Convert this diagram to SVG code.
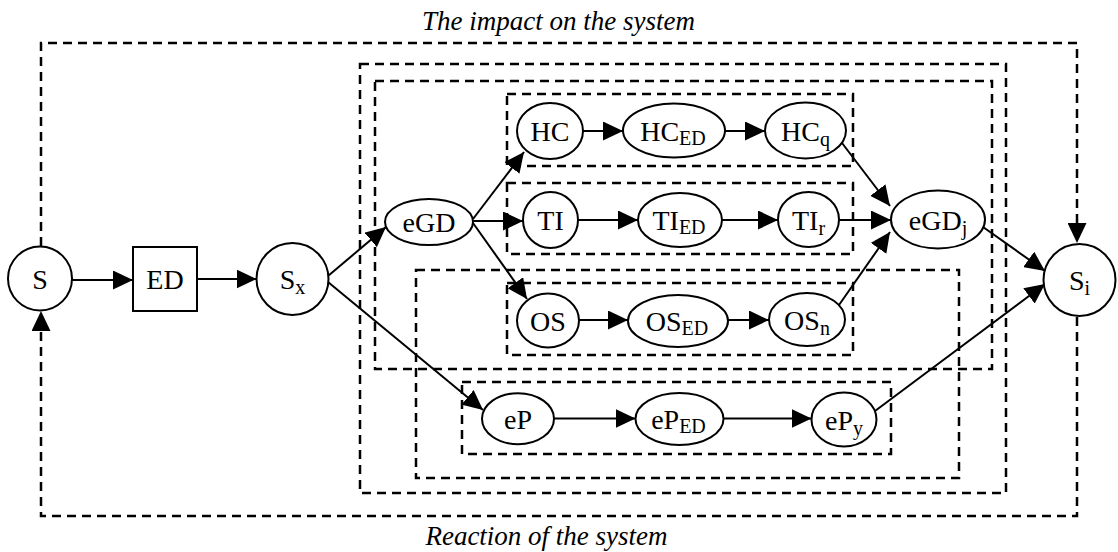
<svg xmlns="http://www.w3.org/2000/svg" width="1118" height="552" viewBox="0 0 1118 552">
<style>
.node{fill:#fff;stroke:#000;stroke-width:2}
.box{fill:none;stroke:#000;stroke-width:2.5;stroke-dasharray:9 6}
.edge{fill:none;stroke:#000;stroke-width:2}
.fb{fill:none;stroke:#000;stroke-width:2.5;stroke-dasharray:9 6}
.lbl{font-family:"Liberation Serif","Times New Roman",serif;font-size:28px;text-anchor:middle;fill:#000}
.sub{font-size:20px}
.cap{font-family:"Liberation Serif","Times New Roman",serif;font-size:27px;font-style:italic;text-anchor:middle;fill:#000}
</style>
<defs>
<marker id="arr" markerUnits="userSpaceOnUse" markerWidth="20" markerHeight="19" refX="20" refY="9.5" orient="auto">
<path d="M0,0 L20,9.5 L0,19 z" fill="#000"/>
</marker>
</defs>
<rect width="1118" height="552" fill="#fff"/>
<g id="frames">
<rect class="box" x="360" y="64" width="646" height="429"/>
<rect class="box" x="375" y="81" width="617" height="288"/>
<rect class="box" x="507" y="94" width="346" height="72"/>
<rect class="box" x="507" y="183" width="346" height="71"/>
<rect class="box" x="416" y="270" width="543" height="208"/>
<rect class="box" x="507" y="283" width="346" height="72"/>
<rect class="box" x="462" y="382" width="429" height="72"/>
</g>
<g id="connectors">
<path class="fb" d="M41,246 V43 H1077 V243" marker-end="url(#arr)"/>
<path class="fb" d="M1077,317 V516 H41 V311" marker-end="url(#arr)"/>
<path class="edge" d="M72,280 L133,280" marker-end="url(#arr)"/>
<path class="edge" d="M197,279 L256.5,279" marker-end="url(#arr)"/>
<path class="edge" d="M328,276 L386,227" marker-end="url(#arr)"/>
<path class="edge" d="M328,282 L483,410" marker-end="url(#arr)"/>
<path class="edge" d="M473,219 L524,152" marker-end="url(#arr)"/>
<path class="edge" d="M473,221 L523,221" marker-end="url(#arr)"/>
<path class="edge" d="M473,223 L527,299" marker-end="url(#arr)"/>
<path class="edge" d="M583,131 L623,131" marker-end="url(#arr)"/>
<path class="edge" d="M725,131 L765,131" marker-end="url(#arr)"/>
<path class="edge" d="M578,220 L638,220" marker-end="url(#arr)"/>
<path class="edge" d="M722,220 L778,220" marker-end="url(#arr)"/>
<path class="edge" d="M579,320 L628,320" marker-end="url(#arr)"/>
<path class="edge" d="M728,320 L769,320" marker-end="url(#arr)"/>
<path class="edge" d="M554,418.5 L635.5,418.5" marker-end="url(#arr)"/>
<path class="edge" d="M723.5,418.5 L811.5,418.5" marker-end="url(#arr)"/>
<path class="edge" d="M842,143 L890,206" marker-end="url(#arr)"/>
<path class="edge" d="M839,220 L891,220" marker-end="url(#arr)"/>
<path class="edge" d="M839,305 L890,232" marker-end="url(#arr)"/>
<path class="edge" d="M983,227 L1045,271" marker-end="url(#arr)"/>
<path class="edge" d="M875,411 L1045,284" marker-end="url(#arr)"/>
</g>
<g id="node-S"><circle class="node" cx="40" cy="278.5" r="32"/><text class="lbl" x="40" y="288.5">S</text></g>
<g id="node-ED"><rect class="node" x="133" y="247" width="64" height="64"/><text class="lbl" x="165" y="289">ED</text></g>
<g id="node-Sx"><circle class="node" cx="292.5" cy="279" r="36"/><text class="lbl" x="292.5" y="289">S<tspan class="sub" dy="5">x</tspan></text></g>
<g id="node-eGD"><ellipse class="node" cx="429" cy="222" rx="44" ry="23"/><text class="lbl" x="429" y="232">eGD</text></g>
<g id="node-HC"><ellipse class="node" cx="550" cy="131" rx="33" ry="28"/><text class="lbl" x="550" y="141">HC</text></g>
<g id="node-HCED"><ellipse class="node" cx="674" cy="130.5" rx="51" ry="27"/><text class="lbl" x="673" y="141">HC<tspan class="sub" dy="4">ED</tspan></text></g>
<g id="node-HCq"><ellipse class="node" cx="805.5" cy="130.5" rx="40.5" ry="28"/><text class="lbl" x="805.5" y="141">HC<tspan class="sub" dy="5">q</tspan></text></g>
<g id="node-TI"><ellipse class="node" cx="550.5" cy="220" rx="27.5" ry="28"/><text class="lbl" x="550.5" y="230">TI</text></g>
<g id="node-TIED"><ellipse class="node" cx="680" cy="220" rx="42" ry="27"/><text class="lbl" x="679" y="230">TI<tspan class="sub" dy="4">ED</tspan></text></g>
<g id="node-TIr"><ellipse class="node" cx="808.5" cy="219.5" rx="30.5" ry="27.5"/><text class="lbl" x="808.5" y="229.5">TI<tspan class="sub" dy="5">r</tspan></text></g>
<g id="node-eGDj"><ellipse class="node" cx="938" cy="219.5" rx="47" ry="29"/><text class="lbl" x="938" y="229.5">eGD<tspan class="sub" dy="5">j</tspan></text></g>
<g id="node-OS"><ellipse class="node" cx="548" cy="320.5" rx="31" ry="27"/><text class="lbl" x="548" y="330.5">OS</text></g>
<g id="node-OSED"><ellipse class="node" cx="678" cy="321" rx="50" ry="26"/><text class="lbl" x="677" y="331">OS<tspan class="sub" dy="4">ED</tspan></text></g>
<g id="node-OSn"><ellipse class="node" cx="807" cy="319.5" rx="38" ry="26.5"/><text class="lbl" x="807" y="329.5">OS<tspan class="sub" dy="5">n</tspan></text></g>
<g id="node-eP"><ellipse class="node" cx="518" cy="418.7" rx="36" ry="25.5"/><text class="lbl" x="518" y="428.7">eP</text></g>
<g id="node-ePED"><ellipse class="node" cx="679.5" cy="419" rx="44" ry="26"/><text class="lbl" x="678.5" y="429">eP<tspan class="sub" dy="4">ED</tspan></text></g>
<g id="node-ePy"><ellipse class="node" cx="844" cy="419.5" rx="32.5" ry="27"/><text class="lbl" x="844" y="429.5">eP<tspan class="sub" dy="5">y</tspan></text></g>
<g id="node-Si"><circle class="node" cx="1079.5" cy="280" r="36"/><text class="lbl" x="1079.5" y="290">S<tspan class="sub" dy="5">i</tspan></text></g>
<text class="cap" x="558.5" y="30">The impact on the system</text>
<text class="cap" x="546.5" y="545">Reaction of the system</text>
</svg>
